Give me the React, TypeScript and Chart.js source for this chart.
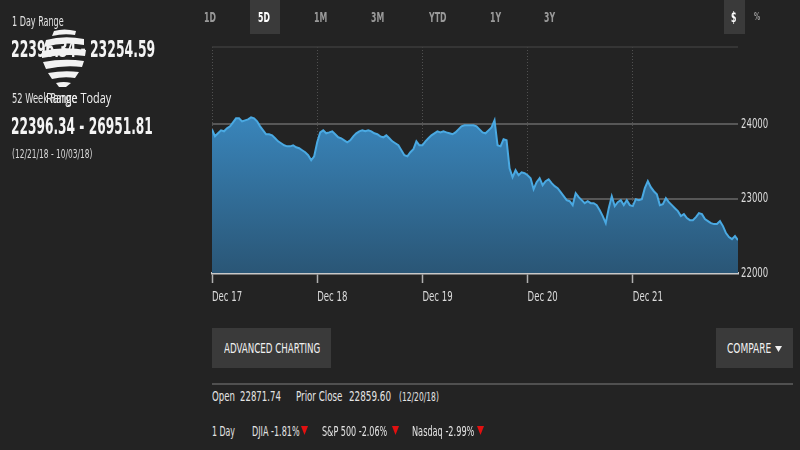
import React, { useEffect, useRef } from "react";
import { Chart, registerables } from "chart.js";
Chart.register(...registerables);

const COND = "'DejaVu Sans Condensed','DejaVu Sans',sans-serif";

const dayLabels = ["Dec 17", "Dec 18", "Dec 19", "Dec 20", "Dec 21"];
const dayTicks = [0, 1, 2, 3, 4];
const pointsPerDay = 35;
const yTicks = [22000, 23000, 24000];
const yMin = 22000;
const yMax = 25040;

// DJIA intraday, 5 trading days (Dec 17 - Dec 21, 2018)
const djiaValues = [
  23932, 23839, 23879, 23919, 23906, 23946, 23973, 24026, 24080, 24080,
  24040, 24053, 24066, 24094, 24080, 24040, 23973, 23919, 23866, 23866,
  23852, 23812, 23771, 23745, 23718, 23704, 23704, 23718, 23691, 23678,
  23651, 23624, 23584, 23516, 23570,
  23758, 23892, 23919, 23879, 23892, 23906, 23866, 23825, 23812, 23785,
  23758, 23785, 23838, 23879, 23906, 23919, 23906, 23919, 23906, 23879,
  23866, 23838, 23825, 23852, 23812, 23771, 23745, 23718, 23651, 23584,
  23570, 23624, 23664, 23771, 23718,
  23718, 23771, 23812, 23852, 23879, 23906, 23892, 23906, 23892, 23879,
  23866, 23892, 23932, 23973, 23986, 23986, 23986, 23986, 23973, 23932,
  23892, 23879, 23919, 23959, 24053, 23718, 23704, 23798, 23785, 23409,
  23288, 23382, 23315, 23355, 23342,
  23315, 23275, 23127, 23221, 23275, 23181, 23235, 23261, 23208, 23168,
  23141, 23087, 23033, 22980, 22966, 22913, 23074, 23020, 22980, 22939,
  22966, 22939, 22939, 22913, 22845, 22765, 22671, 22872, 23033, 22899,
  22953, 22980, 22913, 22980, 22913,
  22900, 22993, 22980, 22993, 23141, 23235, 23154, 23100, 23060, 22913,
  22926, 23006, 22953, 22913, 22872, 22832, 22765, 22792, 22738, 22711,
  22711, 22752, 22805, 22792, 22725, 22698, 22671, 22658, 22658, 22698,
  22631, 22537, 22483, 22456, 22497, 22443,
];

const T = ({ x, y, s, c = "#e4e4e4", w = 400, f = COND, sx = 0.68, children }: any) => (
  <div
    style={{
      position: "absolute",
      left: x,
      top: y - s * 0.6,
      fontSize: s,
      lineHeight: `${s * 1.2}px`,
      color: c,
      fontWeight: w,
      fontFamily: f,
      whiteSpace: "nowrap",
      transform: `scaleX(${sx})`,
      transformOrigin: "left center",
      zIndex: 2,
    }}
  >
    {children}
  </div>
);

const Box = ({ x, y, w, h, c = "#3a3a3a" }: any) => (
  <div style={{ position: "absolute", left: x, top: y, width: w, height: h, background: c, zIndex: 1 }} />
);

const Tri = ({ x, y }: any) => (
  <svg width="7" height="9" style={{ position: "absolute", left: x, top: y - 5, zIndex: 2 }}>
    <path d="M0 0 L7 0 L3.5 9 Z" fill="#e21010" />
  </svg>
);

export default function App() {
  const ref = useRef<HTMLCanvasElement>(null);

  useEffect(() => {
    const frame = {
      id: "frame",
      beforeDatasetsDraw(chart: any) {
        const { ctx, chartArea: a } = chart;
        ctx.save();
        ctx.strokeStyle = "#3c3c3c";
        ctx.lineWidth = 1.5;
        ctx.beginPath();
        ctx.moveTo(a.left, a.top);
        ctx.lineTo(a.right, a.top);
        ctx.stroke();
        ctx.restore();
      },
      afterDraw(chart: any) {
        const { ctx, chartArea: a, scales } = chart;
        ctx.save();
        ctx.fillStyle = "#dcdcdc";
        ctx.textBaseline = "middle";
        ctx.textAlign = "left";
        ctx.font = `14px ${COND}`;
        yTicks.forEach((v) => {
          const py = scales.y.getPixelForValue(v);
          ctx.save();
          ctx.translate(a.right + 3, py);
          ctx.scale(0.68, 1);
          ctx.fillText(String(v), 0, 0);
          ctx.restore();
        });
        dayTicks.forEach((v, i) => {
          const px = scales.x.getPixelForValue(v);
          ctx.save();
          ctx.translate(px, a.bottom + 24);
          ctx.scale(0.68, 1);
          ctx.fillText(dayLabels[i], 0, 0);
          ctx.restore();
        });
        ctx.restore();
      },
    };
    const chart = new Chart(ref.current!, {
      type: "line",
      data: {
        datasets: [
          {
            data: djiaValues.map((v, i) => ({ x: i / pointsPerDay, y: v })),
            borderColor: "#4aa9e2",
            borderWidth: 2,
            pointRadius: 0,
            tension: 0,
            fill: "start",
            backgroundColor: (c: any) => {
              const a = c.chart.chartArea;
              if (!a) return "#2f6f9c";
              const g = c.chart.ctx.createLinearGradient(0, a.top + 60, 0, a.bottom);
              g.addColorStop(0, "#3a88bf");
              g.addColorStop(1, "#2a5676");
              return g;
            },
          },
        ],
      },
      options: {
        animation: false,
        responsive: false,
        maintainAspectRatio: false,
        layout: { padding: { left: 212, top: 47, right: 0, bottom: 0 } },
        plugins: { legend: { display: false }, tooltip: { enabled: false } },
        scales: {
          x: {
            type: "linear",
            min: 0,
            max: dayLabels.length,
            afterBuildTicks: (s: any) => {
              s.ticks = dayTicks.map((v) => ({ value: v }));
            },
            afterFit: (s: any) => {
              s.height = 57;
            },
            ticks: { display: false },
            grid: {
              color: "#505050",
              lineWidth: 1,
              drawTicks: true,
              tickLength: 10,
              tickColor: "#b0b0b0",
              tickWidth: 1.5,
              tickBorderDash: [],
            },
            border: { display: true, color: "#c8c8c8", width: 2.5, dash: [1, 2] },
          },
          y: {
            position: "right",
            min: yMin,
            max: yMax,
            afterBuildTicks: (s: any) => {
              s.ticks = yTicks.map((v) => ({ value: v }));
            },
            afterFit: (s: any) => {
              s.width = 62;
            },
            ticks: { display: false },
            grid: {
              color: (c: any) => (c.tick && c.tick.value === yMin ? "rgba(0,0,0,0)" : "#575757"),
              lineWidth: 2,
              drawTicks: false,
            },
            border: { display: false },
          },
        },
      } as any,
      plugins: [frame],
    });
    return () => chart.destroy();
  }, []);

  return (
    <div style={{ position: "fixed", left: 0, top: 0, width: 800, height: 450, background: "#232323", overflow: "hidden" }}>
      <canvas ref={ref} width={800} height={330} style={{ position: "absolute", left: 0, top: 0, zIndex: 0 }} />

      {/* top range buttons */}
      <Box x={250} y={0} w={30} h={34} />
      <Box x={724} y={0} w={21} h={34} />
      <T x={204} y={17} s={14} c="#9a9a9a" w={700} sx={0.62}>1D</T>
      <T x={258} y={17} s={14} c="#ffffff" w={700} sx={0.62}>5D</T>
      <T x={314} y={17} s={14} c="#9a9a9a" w={700} sx={0.62}>1M</T>
      <T x={371} y={17} s={14} c="#9a9a9a" w={700} sx={0.62}>3M</T>
      <T x={429} y={17} s={14} c="#9a9a9a" w={700} sx={0.62}>YTD</T>
      <T x={490} y={17} s={14} c="#9a9a9a" w={700} sx={0.62}>1Y</T>
      <T x={544} y={17} s={14} c="#9a9a9a" w={700} sx={0.62}>3Y</T>
      <T x={731} y={17} s={14} c="#ffffff" w={700} sx={0.62}>$</T>
      <T x={754} y={17} s={11} c="#9a9a9a" w={700} sx={0.62}>%</T>

      {/* left panel */}
      <T x={12} y={21} s={14} sx={0.64}>1 Day Range</T>
      <T x={11} y={50} s={23} c="#f4f4f4" w={700} sx={0.6}>22396.34 - 23254.59</T>
      <svg width="50" height="60" style={{ position: "absolute", left: 38, top: 28, zIndex: 3 }} viewBox="0 0 50 60">
        <path d="M16 3 Q26 0 38 3 L37 7 Q26 5 14 8 Z" fill="#f2f2f2" />
        <path d="M8 12 Q26 7 46 11 L46 17 Q26 13 6 19 Z" fill="#f2f2f2" />
        <path d="M4 23 Q26 18 48 22 L47 28 Q26 25 4 30 Z" fill="#f2f2f2" />
        <path d="M5 34 Q26 30 46 33 L44 39 Q26 37 8 41 Z" fill="#f2f2f2" />
        <path d="M10 45 Q26 42 41 44 L37 50 Q26 48 14 51 Z" fill="#f2f2f2" />
        <path d="M18 55 Q26 53 33 55 L28 59 Q24 59 21 59 Z" fill="#f2f2f2" />
      </svg>
      <T x={12} y={98} s={14} sx={0.66}>52 Week Range</T>
      <T x={46} y={98} s={14} c="#f0f0f0" f="'Open Sans','DejaVu Sans',sans-serif" sx={0.78}>Range Today</T>
      <T x={11} y={127} s={23} c="#f4f4f4" w={700} sx={0.59}>22396.34 - 26951.81</T>
      <T x={12} y={154} s={13} c="#d8d8d8" sx={0.64}>(12/21/18 - 10/03/18)</T>

      {/* bottom controls */}
      <Box x={212} y={328} w={119} h={40} />
      <Box x={716} y={328} w={77} h={40} />
      <T x={224} y={348} s={14} c="#f0f0f0" sx={0.69}>ADVANCED CHARTING</T>
      <T x={727} y={348} s={14} c="#f0f0f0" sx={0.72}>COMPARE</T>
      <svg width="7" height="6" style={{ position: "absolute", left: 775, top: 346, zIndex: 2 }}>
        <path d="M0 0 L7 0 L3.5 6 Z" fill="#f0f0f0" />
      </svg>
      <div style={{ position: "absolute", left: 212, top: 383, width: 581, height: 2, background: "#505050" }} />

      <T x={212} y={396} s={14} sx={0.68}>Open</T>
      <T x={240} y={396} s={14} sx={0.68}>22871.74</T>
      <T x={296} y={396} s={14} sx={0.69}>Prior Close</T>
      <T x={349} y={396} s={14} sx={0.7}>22859.60</T>
      <T x={399} y={397} s={12} sx={0.7}>(12/20/18)</T>

      <T x={212} y={431} s={14} sx={0.62}>1 Day</T>
      <T x={252} y={431} s={14} sx={0.64}>DJIA -1.81%</T>
      <Tri x={301} y={431} />
      <T x={322} y={431} s={14} sx={0.64}>S&amp;P 500 -2.06%</T>
      <Tri x={392} y={431} />
      <T x={412} y={431} s={14} sx={0.65}>Nasdaq -2.99%</T>
      <Tri x={477} y={431} />
    </div>
  );
}
